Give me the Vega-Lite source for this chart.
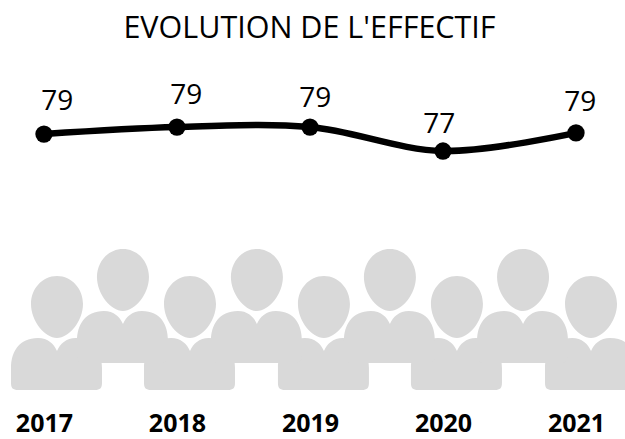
{
"$schema":"https://vega.github.io/schema/vega-lite/v6.json",
"width":625,"height":405,"padding":{"left":0,"top":0,"right":0,"bottom":34},"autosize":{"type":"none"},
"background":"white",
"title":{"text":"EVOLUTION DE L'EFFECTIF","font":"Open Sans","fontSize":30.5,"fontWeight":"normal","color":"#000000","anchor":"middle","frame":"group","offset":-44,"dx":-3},
"config":{"view":{"stroke":null},"font":"Open Sans"},
"datasets":{
"effectif":[{"annee":2017,"effectif":78.51},{"annee":2018,"effectif":79.01},{"annee":2019,"effectif":79.01},{"annee":2020,"effectif":77.3},{"annee":2021,"effectif":78.59}],
"etiquettes":[{"annee":2017.1,"niveau":80.8,"valeur":79},{"annee":2018.07,"niveau":81.228,"valeur":79},{"annee":2019.04,"niveau":81.014,"valeur":79},{"annee":2019.972,"niveau":79.157,"valeur":77},{"annee":2021.033,"niveau":80.728,"valeur":79}],
"silhouettes":[{"annee":2017.098,"rang":66.157},{"annee":2018.098,"rang":66.157},{"annee":2019.105,"rang":66.157},{"annee":2020.105,"rang":66.157},{"annee":2021.113,"rang":66.157},{"annee":2017.594,"rang":68.086},{"annee":2018.601,"rang":68.086},{"annee":2019.601,"rang":68.086},{"annee":2020.602,"rang":68.086}]
},
"encoding":{
"x":{"field":"annee","type":"quantitative","scale":{"domain":[2016.6695,2021.3685],"nice":false,"zero":false},"axis":{"values":[2017,2018,2019,2020,2021],"format":"d","title":null,"grid":false,"domain":false,"ticks":false,"labelFontSize":25,"labelFontWeight":"bold","labelFont":"Open Sans","labelColor":"#000000","labelPadding":6,"labelFlush":false,"labelOverlap":false}}
},
"layer":[
{"data":{"name":"silhouettes"},
 "mark":{"type":"point","filled":true,"opacity":1,"fill":"#d9d9d9","stroke":null,"size":4,"clip":false,"shape":"M -46 61 C -46 45 -38 31 -19 31 C -9 31 -3 37 0 44 C 3 37 9 31 19 31 C 38 31 45 45 45 61 L 45 76 C 45 81 43 83 38 83 L -39 83 C -44 83 -46 81 -46 76 Z M 0 -31 C 15 -31 26 -18 26 -3 C 26 14 12 31 0 31 C -12 31 -26 14 -26 -3 C -26 -18 -15 -31 0 -31 Z"},
 "encoding":{"y":{"field":"rang","type":"quantitative","scale":{"domain":[59.157,88.086],"nice":false,"zero":false},"axis":null}}},
{"data":{"name":"effectif"},
 "mark":{"type":"line","color":"#000000","strokeWidth":6.5,"interpolate":"catmull-rom"},
 "encoding":{"y":{"field":"effectif","type":"quantitative","scale":{"domain":[59.157,88.086],"nice":false,"zero":false},"axis":null}}},
{"data":{"name":"effectif"},
 "mark":{"type":"point","filled":true,"opacity":1,"color":"#000000","size":300,"shape":"circle"},
 "encoding":{"y":{"field":"effectif","type":"quantitative","scale":{"domain":[59.157,88.086],"nice":false,"zero":false},"axis":null}}},
{"data":{"name":"etiquettes"},
 "mark":{"type":"text","font":"Open Sans","fontSize":28,"color":"#000000","align":"center","baseline":"middle"},
 "encoding":{"y":{"field":"niveau","type":"quantitative","scale":{"domain":[59.157,88.086],"nice":false,"zero":false},"axis":null},"text":{"field":"valeur","type":"quantitative","format":"d"}}}
]
}
